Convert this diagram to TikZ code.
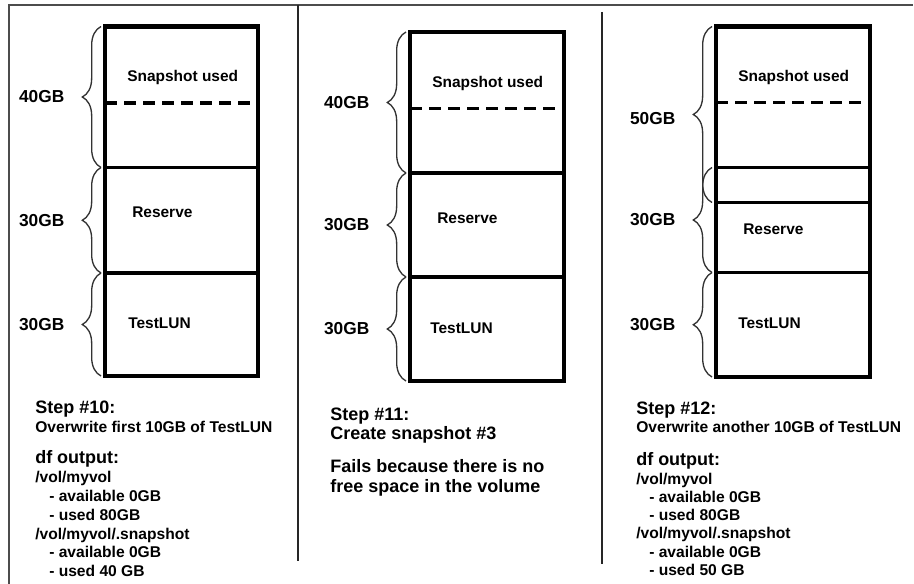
\documentclass[tikz,border=0pt]{standalone}
\usepackage{fontspec}
\setmainfont{Liberation Sans}
\usetikzlibrary{decorations.pathreplacing}

\begin{document}
\begin{tikzpicture}[x=0.75pt, y=-0.75pt,
        frameline/.style={line width=1.1pt, draw=black!70},
        sepline/.style={line width=1pt, draw=black!85},
        boxline/.style={line width=3.2pt},
        splitline/.style={line width=2.3pt},
        usedline/.style={line width=2.6pt, dash pattern=on 9pt off 5.3pt},
        gbbrace/.style={decorate, decoration={brace, amplitude=14pt}, line width=1pt, draw=black!80},
        sizelabel/.style={anchor=east, inner sep=0pt, xshift=-27pt, font=\fontsize{13}{15}\selectfont\bfseries},
        boxtext/.style={anchor=base west, inner sep=0pt, font=\fontsize{11.6}{14}\selectfont\bfseries},
        headtext/.style={anchor=base west, inner sep=0pt, font=\fontsize{13.5}{16}\selectfont\bfseries},
        infotext/.style={anchor=base west, inner sep=0pt, font=\fontsize{11.7}{14}\selectfont\bfseries}]
        \useasboundingbox (0,0) rectangle (914,584);

        \coordinate (frame_nw) at (9,5);
        \draw[frameline] (9,584) -- (frame_nw) -- (913,5);
        \draw[sepline] (298,5) -- (298,561);
        \draw[sepline] (602,12) -- (602,564);

        % step 10
        \coordinate (c1_top) at (105,26.5);
        \coordinate (c1_used) at (105,103);
        \coordinate (c1_res) at (105,167.5);
        \coordinate (c1_lun) at (105,273);
        \coordinate (c1_bot) at (105,376);
        \draw[boxline] (c1_top) rectangle (258,376);
        \draw[usedline] (c1_used) -- ++(153,0);
        \draw[splitline] (c1_res) -- ++(153,0);
        \draw[splitline] (c1_lun) -- ++(153,0);

        \draw[gbbrace] ([xshift=-3pt]c1_res) -- ([xshift=-3pt]c1_top)
            node[sizelabel, midway] (c1_gb_snap) {40GB};
        \draw[gbbrace] ([xshift=-3pt]c1_lun) -- ([xshift=-3pt]c1_res)
            node[sizelabel, midway] (c1_gb_res) {30GB};
        \draw[gbbrace] ([xshift=-3pt]c1_bot) -- ([xshift=-3pt]c1_lun)
            node[sizelabel, midway] (c1_gb_lun) {30GB};

        \node[boxtext] (c1_snap) at (127,82) {Snapshot used};
        \node[boxtext] (c1_resv) at (132,218) {Reserve};
        \node[boxtext] (c1_test) at (128,329) {TestLUN};

        \node[headtext] (s10_head) at (35,414) {Step \#10:};
        \node[infotext] (s10_what) at (35,432.5) {Overwrite first 10GB of TestLUN};
        \node[headtext] (s10_df) at (35,464) {df output:};
        \node[infotext] (s10_vol) at (35,483) {/vol/myvol};
        \node[infotext] (s10_vavail) at (49,501.5) {- available 0GB};
        \node[infotext] (s10_vused) at (49,520) {- used 80GB};
        \node[infotext] (s10_snap) at (35,539) {/vol/myvol/.snapshot};
        \node[infotext] (s10_savail) at (49,557.5) {- available 0GB};
        \node[infotext] (s10_sused) at (49,576) {- used 40 GB};

        % step 11
        \coordinate (c2_top) at (410,32);
        \coordinate (c2_used) at (410,108.5);
        \coordinate (c2_res) at (410,173);
        \coordinate (c2_lun) at (410,277);
        \coordinate (c2_bot) at (410,381);
        \draw[boxline] (c2_top) rectangle (564,381);
        \draw[usedline] (c2_used) -- ++(154,0);
        \draw[splitline] (c2_res) -- ++(154,0);
        \draw[splitline] (c2_lun) -- ++(154,0);

        \draw[gbbrace] ([xshift=-3pt]c2_res) -- ([xshift=-3pt]c2_top)
            node[sizelabel, midway] (c2_gb_snap) {40GB};
        \draw[gbbrace] ([xshift=-3pt]c2_lun) -- ([xshift=-3pt]c2_res)
            node[sizelabel, midway] (c2_gb_res) {30GB};
        \draw[gbbrace] ([xshift=-3pt]c2_bot) -- ([xshift=-3pt]c2_lun)
            node[sizelabel, midway] (c2_gb_lun) {30GB};

        \node[boxtext] (c2_snap) at (432,88) {Snapshot used};
        \node[boxtext] (c2_resv) at (437,224) {Reserve};
        \node[boxtext] (c2_test) at (430,334) {TestLUN};

        \node[headtext] (s11_head) at (330,421) {Step \#11:};
        \node[headtext] (s11_what) at (330,440) {Create snapshot \#3};
        \node[headtext] (s11_fail) at (330,472.5) {Fails because there is no};
        \node[headtext] (s11_why) at (330,493) {free space in the volume};

        % step 12
        \coordinate (c3_top) at (716,26.5);
        \coordinate (c3_used) at (716,102.5);
        \coordinate (c3_grow) at (716,167.5);
        \coordinate (c3_res) at (716,202.5);
        \coordinate (c3_lun) at (716,272.5);
        \coordinate (c3_bot) at (716,377);
        \draw[boxline] (c3_top) rectangle (870,377);
        \draw[usedline] (c3_used) -- ++(154,0);
        \draw[line width=1.6pt] (c3_grow) -- ++(154,0);
        \draw[splitline] (c3_res) -- ++(154,0);
        \draw[splitline] (c3_lun) -- ++(154,0);

        \draw[gbbrace] ([xshift=-3pt]c3_res) -- ([xshift=-3pt]c3_top)
            node[sizelabel, midway, yshift=-3pt] (c3_gb_snap) {50GB};
        \draw[gbbrace] ([xshift=-3pt]c3_lun) -- ([xshift=-3pt]c3_grow)
            node[sizelabel, midway] (c3_gb_res) {30GB};
        \draw[gbbrace] ([xshift=-3pt]c3_bot) -- ([xshift=-3pt]c3_lun)
            node[sizelabel, midway] (c3_gb_lun) {30GB};

        \node[boxtext] (c3_snap) at (738,82) {Snapshot used};
        \node[boxtext] (c3_resv) at (743,235) {Reserve};
        \node[boxtext] (c3_test) at (738,329) {TestLUN};

        \node[headtext] (s12_head) at (636,415) {Step \#12:};
        \node[infotext] (s12_what) at (636,432.5) {Overwrite another 10GB of TestLUN};
        \node[headtext] (s12_df) at (636,465) {df output:};
        \node[infotext] (s12_vol) at (636,484) {/vol/myvol};
        \node[infotext] (s12_vavail) at (649,502) {- available 0GB};
        \node[infotext] (s12_vused) at (649,520) {- used 80GB};
        \node[infotext] (s12_snap) at (636,538.5) {/vol/myvol/.snapshot};
        \node[infotext] (s12_savail) at (649,557) {- available 0GB};
        \node[infotext] (s12_sused) at (649,575) {- used 50 GB};

    \end{tikzpicture}
\end{document}
